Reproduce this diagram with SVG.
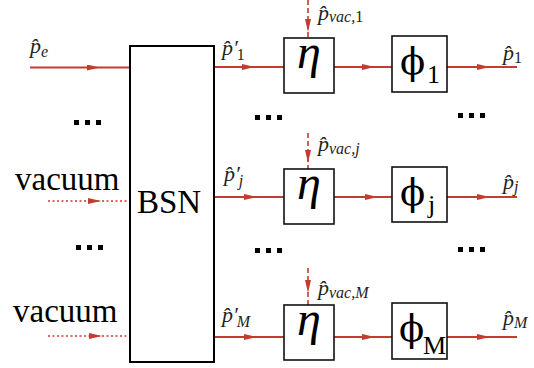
<svg xmlns="http://www.w3.org/2000/svg" width="534" height="368" viewBox="0 0 534 368">
<defs>
<style>
.box{fill:#fff;stroke:#111;stroke-width:1.6}
.bsn{fill:#fff;stroke:#000;stroke-width:2}
.ln{fill:none;stroke:#c43b2f;stroke-width:2;marker-mid:url(#ah)}
.dash{fill:none;stroke:#c43b2f;stroke-width:1.6;stroke-dasharray:5 3;marker-mid:url(#ah)}
.dot{fill:none;stroke:#c43b2f;stroke-width:1.4;stroke-dasharray:2 2.5;marker-mid:url(#ah)}
.t{font-family:"Liberation Serif","Times New Roman",serif;fill:#000}
.big{font-size:33px}
.m{font-family:"Liberation Serif","Times New Roman",serif;font-style:italic;font-size:22px;fill:#222}
.s{font-size:16px}
.r{font-style:normal}
.eta{font-family:"Liberation Serif","Times New Roman",serif;font-style:italic;font-size:48px;text-anchor:middle}
.phi{font-family:"DejaVu Serif","Liberation Serif",serif;font-size:37px}
.ps{font-family:"Liberation Serif","Times New Roman",serif;font-size:26px}
.el{fill:#000}
</style>
<marker id="ah" viewBox="0 0 13 6" refX="13" refY="3" markerWidth="13" markerHeight="6" markerUnits="userSpaceOnUse" orient="auto">
<path d="M0,0 L13,3 L0,6 z" fill="#c43b2f"/>
</marker>
</defs>

<g id="connectors">
<path class="ln" d="M30,67.5 L100,67.5 L130,67.5"/>
<path class="ln" d="M214,67 L255,67 L284,67"/>
<path class="ln" d="M334,67 L375,67 L392,67"/>
<path class="ln" d="M447,67 L490,67 L517,67"/>
<path class="dash" d="M308,0 L308,32 L308,38"/>

<path class="dot" d="M48,201 L101,201 L130,201"/>
<path class="ln" d="M214,197 L257,197 L284,197"/>
<path class="ln" d="M334,197 L378,197 L392,197"/>
<path class="ln" d="M447,197 L490,197 L517,197"/>
<path class="dash" d="M308,133 L308,163 L308,169"/>

<path class="dot" d="M48,336 L102,336 L130,336"/>
<path class="ln" d="M214,337 L257,337 L284,337"/>
<path class="ln" d="M334,337 L375,337 L392,337"/>
<path class="ln" d="M447,337 L490,337 L517,337"/>
<path class="dash" d="M308,268 L308,293 L308,305"/>
</g>

<g id="bsn">
<rect class="bsn" x="130" y="46" width="84" height="316"/>
<text class="t big" x="137" y="213">BSN</text>
</g>

<g id="eta1"><rect class="box" x="284" y="38" width="50" height="55"/><text class="eta" x="309" y="68">η</text></g>
<g id="etaj"><rect class="box" x="284" y="169" width="50" height="55"/><text class="eta" x="309" y="199">η</text></g>
<g id="etaM"><rect class="box" x="284" y="305" width="50" height="55"/><text class="eta" x="309" y="335">η</text></g>

<g id="phi1"><rect class="box" x="392" y="36" width="55" height="56"/><text class="phi" x="400" y="74">ϕ</text><text class="ps" x="427" y="83">1</text></g>
<g id="phij"><rect class="box" x="392" y="167" width="55" height="55"/><text class="phi" x="400" y="205">ϕ</text><text class="ps" x="428" y="213">j</text></g>
<g id="phiM"><rect class="box" x="392" y="303" width="55" height="56"/><text class="phi" x="399" y="341">ϕ</text><text class="ps" x="423" y="354">M</text></g>

<g id="labels">
<text class="m" x="30" y="53">p&#x302;<tspan class="s" dy="4">e</tspan></text>
<text class="m" x="222" y="55">p&#x302;′<tspan class="s r" dx="-1" dy="5">1</tspan></text>
<text class="m" x="224" y="181">p&#x302;′<tspan class="s" dx="-1" dy="5">j</tspan></text>
<text class="m" x="222" y="322">p&#x302;′<tspan class="s" dx="-1" dy="5">M</tspan></text>
<text class="m" x="318" y="20">p&#x302;<tspan class="s" dy="2">vac,<tspan class="r">1</tspan></tspan></text>
<text class="m" x="318" y="151">p&#x302;<tspan class="s" dy="3">vac,j</tspan></text>
<text class="m" x="318" y="295">p&#x302;<tspan class="s" dy="3">vac,M</tspan></text>
<text class="m" x="503" y="60">p&#x302;<tspan class="s r" dy="3">1</tspan></text>
<text class="m" x="503" y="189">p&#x302;<tspan class="s" dy="3">j</tspan></text>
<text class="m" x="503" y="325">p&#x302;<tspan class="s" dy="3">M</tspan></text>
<text class="t big" x="15" y="190">vacuum</text>
<text class="t big" x="13" y="322">vacuum</text>
</g>

<g id="ellipses" class="el">
<rect x="74" y="120" width="5" height="5"/><rect x="85" y="120" width="5" height="5"/><rect x="96" y="120" width="5" height="5"/>
<rect x="76" y="245" width="5" height="5"/><rect x="87" y="245" width="5" height="5"/><rect x="98" y="245" width="5" height="5"/>
<rect x="255" y="115" width="5" height="5"/><rect x="266" y="115" width="5" height="5"/><rect x="277" y="115" width="5" height="5"/>
<rect x="255" y="248" width="5" height="5"/><rect x="266" y="248" width="5" height="5"/><rect x="277" y="248" width="5" height="5"/>
<rect x="458" y="113" width="5" height="5"/><rect x="469" y="113" width="5" height="5"/><rect x="480" y="113" width="5" height="5"/>
<rect x="458" y="247" width="5" height="5"/><rect x="469" y="247" width="5" height="5"/><rect x="480" y="247" width="5" height="5"/>
</g>
</svg>
